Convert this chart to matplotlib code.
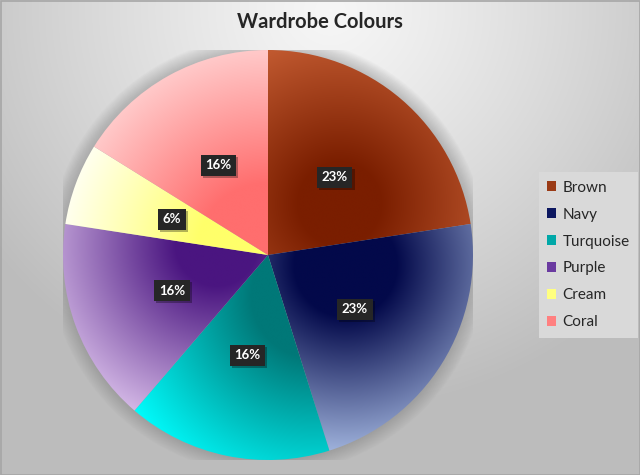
import numpy as np
import matplotlib
matplotlib.use("Agg")
import matplotlib.pyplot as plt
import matplotlib.patheffects as pe
from matplotlib.colors import to_rgb
from matplotlib.patches import Patch, Circle

plt.rcParams['font.family'] = ['Lato', 'DejaVu Sans']

title = "Wardrobe Colours"
colours = ["Brown", "Navy", "Turquoise", "Purple", "Cream", "Coral"]
counts = [7, 7, 5, 5, 2, 5]

# dark (inner) and light (outer) shade of each slice, plus where the dark spot sits
dark_cols = ["#7a1e00", "#03094a", "#007878", "#4a1580", "#ffff6a", "#ff6e6e"]
light_cols = ["#c45c32", "#a8bce4", "#00ffff", "#dcc2ec", "#ffffee", "#ffd0d0"]
focus = [(0.35, 0.25), (0.38, -0.05), (0.22, -0.2), (-0.25, 0.05), (0.0, 0.0), (0.0, 0.0)]
ramp = [(0.2, 0.85), (0.25, 0.95), (0.3, 1.05), (0.2, 0.95), (0.35, 1.0), (0.35, 1.05)]
legend_cols = ["#9a3a15", "#0c1760", "#00a8a8", "#6a3aa0", "#ffff80", "#ff8080"]

W, H = 640, 475
fig = plt.figure(figsize=(W / 100, H / 100), dpi=100)

# background gradient
bg = fig.add_axes([0, 0, 1, 1])
yy, xx = np.mgrid[0:H, 0:W]
d = np.hypot(xx - 330, (yy - 10) * 1.05)
f = np.clip(d / 420, 0, 1) ** 1.2
g = 0.965 - 0.225 * f
bg.imshow(np.dstack([g, g, g]), extent=[0, W, H, 0], aspect='auto')
bg.set_xlim(0, W)
bg.set_ylim(H, 0)
bg.axis('off')
bg.add_patch(plt.Rectangle((0.5, 0.5), W - 1, H - 1, fill=False, ec='#a6a6a6', lw=1.2))

cx, cy, R = 268, 255, 205
ax = fig.add_axes([(cx - R) / W, (H - cy - R) / H, 2 * R / W, 2 * R / H])

# soft shadow behind the pie
for k in range(14):
    ax.add_patch(Circle((0, 0), 1.0 + 0.005 * (14 - k), color='#7a7a7a', alpha=0.03, lw=0, zorder=0))

wedges, _ = ax.pie(counts, startangle=90, counterclock=False, radius=1,
                   wedgeprops=dict(fc='none', ec='none'))

n = 500
gy, gx = np.mgrid[1:-1:n * 1j, -1:1:n * 1j]
for i, w in enumerate(wedges):
    fx, fy = focus[i]
    r0, r1 = ramp[i]
    t = np.clip((np.hypot(gx - fx, gy - fy) - r0) / (r1 - r0), 0, 1)
    c0 = np.array(to_rgb(dark_cols[i]))
    c1 = np.array(to_rgb(light_cols[i]))
    img = c0 + (c1 - c0) * t[..., None]
    im = ax.imshow(img, extent=[-1, 1, -1, 1], zorder=1)
    im.set_clip_path(w)

total = sum(counts)
ang = 90.0
for i, v in enumerate(counts):
    span = 360.0 * v / total
    mid = np.deg2rad(ang - span / 2)
    ang -= span
    x, y = 0.5 * np.cos(mid), 0.5 * np.sin(mid)
    lab = f"{100 * v / total:.0f}%"
    txt = ax.text(x, y, lab, ha='center', va='center', fontsize=9.5, fontweight='bold',
                  color='white', zorder=5,
                  bbox=dict(boxstyle='square,pad=0.35', fc='#262626', ec='none'))
    txt.get_bbox_patch().set_path_effects([
        pe.SimplePatchShadow(offset=(1.5, -1.5), shadow_rgbFace='#000000', alpha=0.3),
        pe.Normal()])

ax.set_xlim(-1, 1)
ax.set_ylim(-1, 1)
ax.set_aspect('equal')
ax.axis('off')

fig.text(320 / W, 1 - 22 / H, title, ha='center', va='center', fontsize=14.5,
         fontweight='bold', color='#262626')

handles = [Patch(fc=c, ec='none') for c in legend_cols]
leg = fig.legend(handles, colours, loc='center left', bbox_to_anchor=(534 / W, 1 - 255 / H),
                 frameon=True, fontsize=11, handlelength=0.6, handleheight=0.6,
                 handletextpad=0.4, labelspacing=0.85, borderpad=0.55, borderaxespad=0.3,
                 fancybox=False)
leg.get_frame().set_facecolor('#d9d9d9')
leg.get_frame().set_edgecolor('none')
leg.get_frame().set_alpha(1)
for t in leg.get_texts():
    t.set_color('#262626')

fig.savefig("out.png", dpi=100)
